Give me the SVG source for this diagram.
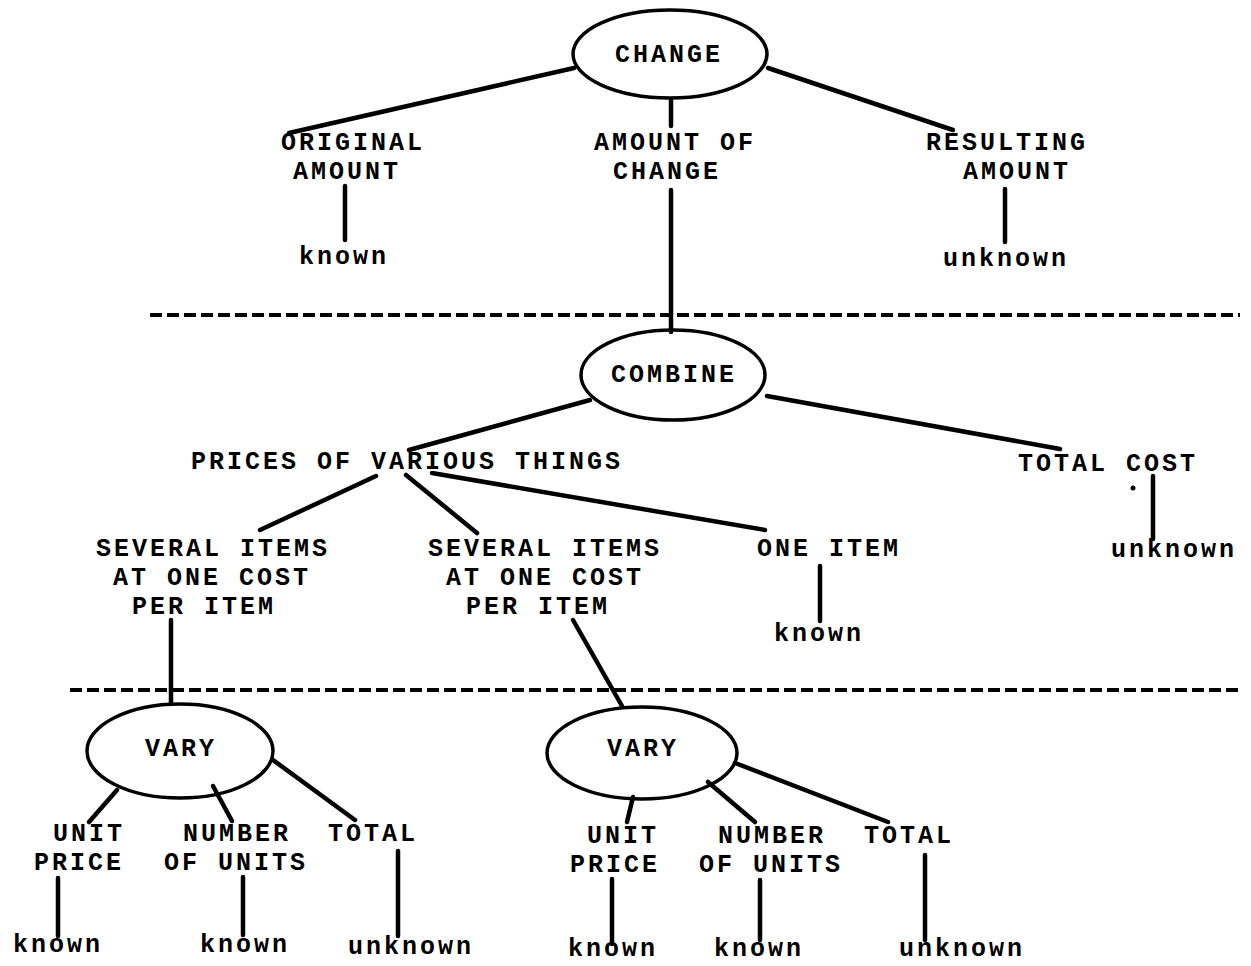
<svg xmlns="http://www.w3.org/2000/svg" width="1251" height="966" viewBox="0 0 1251 966">
<style>
text{font-family:"Liberation Mono","DejaVu Sans Mono",monospace;font-weight:bold;font-size:25px;letter-spacing:3px;fill:#000;text-anchor:middle}
.e{fill:none;stroke:#000;stroke-width:3.5}
.c line{stroke:#000;stroke-width:4.5;stroke-linecap:round}
.d{stroke:#000;stroke-width:4;stroke-dasharray:12 5;fill:none}
</style>
<rect width="1251" height="966" fill="#fff"/>
<g id="separators">
<line class="d" x1="150" y1="315" x2="1240" y2="315"/>
<line class="d" x1="70" y1="690" x2="1240" y2="690"/>
</g>
<g class="c" id="connectors">
<line x1="574" y1="68" x2="289" y2="133"/>
<line x1="671" y1="100" x2="671" y2="126"/>
<line x1="768" y1="68" x2="953" y2="130"/>
<line x1="345" y1="186" x2="345" y2="240"/>
<line x1="671" y1="190" x2="671" y2="332"/>
<line x1="1005" y1="189" x2="1005" y2="242"/>
<line x1="590" y1="400" x2="409" y2="450"/>
<line x1="767" y1="396" x2="1060" y2="449"/>
<line x1="1153" y1="476" x2="1153" y2="539"/>
<line x1="376" y1="476" x2="260" y2="530"/>
<line x1="406" y1="475" x2="477" y2="533"/>
<line x1="432" y1="473" x2="765" y2="530"/>
<line x1="820" y1="566" x2="820" y2="621"/>
<line x1="171" y1="620" x2="171" y2="704"/>
<line x1="573" y1="620" x2="622" y2="706"/>
<line x1="117" y1="790" x2="89" y2="822"/>
<line x1="213" y1="786" x2="232" y2="821"/>
<line x1="273" y1="760" x2="355" y2="820"/>
<line x1="58" y1="878" x2="58" y2="936"/>
<line x1="243" y1="877" x2="243" y2="935"/>
<line x1="398" y1="851" x2="398" y2="936"/>
<line x1="633" y1="797" x2="627" y2="822"/>
<line x1="708" y1="782" x2="755" y2="822"/>
<line x1="735" y1="763" x2="888" y2="822"/>
<line x1="612" y1="879" x2="612" y2="944"/>
<line x1="760" y1="880" x2="760" y2="940"/>
<line x1="925" y1="855" x2="925" y2="940"/>
<circle cx="1133" cy="488" r="2.5" fill="#000"/>
</g>
<g id="change"><ellipse class="e" cx="670" cy="54" rx="97" ry="44"/><text x="669" y="62">CHANGE</text></g>
<g id="original-amount"><text x="353" y="150">ORIGINAL</text><text x="347" y="179">AMOUNT</text></g>
<g id="amount-of-change"><text x="675" y="150">AMOUNT OF</text><text x="667" y="179">CHANGE</text></g>
<g id="resulting-amount"><text x="1007" y="150">RESULTING</text><text x="1017" y="179">AMOUNT</text></g>
<g id="known-1"><text x="344" y="264">known</text></g>
<g id="unknown-1"><text x="1006" y="266">unknown</text></g>
<g id="combine"><ellipse class="e" cx="673" cy="375" rx="92" ry="45"/><text x="674" y="382">COMBINE</text></g>
<g id="prices"><text x="407" y="469">PRICES OF VARIOUS THINGS</text></g>
<g id="total-cost"><text x="1108" y="471">TOTAL COST</text></g>
<g id="unknown-2"><text x="1174" y="557">unknown</text></g>
<g id="several-1"><text x="213" y="556">SEVERAL ITEMS</text><text x="212" y="585">AT ONE COST</text><text x="204" y="614">PER ITEM</text></g>
<g id="several-2"><text x="545" y="556">SEVERAL ITEMS</text><text x="545" y="585">AT ONE COST</text><text x="538" y="614">PER ITEM</text></g>
<g id="one-item"><text x="829" y="556">ONE ITEM</text></g>
<g id="known-2"><text x="819" y="641">known</text></g>
<g id="vary-1"><ellipse class="e" cx="180" cy="751" rx="93" ry="47"/><text x="181" y="756">VARY</text></g>
<g id="vary-2"><ellipse class="e" cx="642" cy="753" rx="95" ry="46"/><text x="643" y="756">VARY</text></g>
<g id="unit-price-1"><text x="89" y="841">UNIT</text><text x="79" y="870">PRICE</text></g>
<g id="number-1"><text x="237" y="841">NUMBER</text><text x="236" y="870">OF UNITS</text></g>
<g id="total-1"><text x="373" y="841">TOTAL</text></g>
<g id="known-3"><text x="58" y="952">known</text></g>
<g id="known-4"><text x="245" y="952">known</text></g>
<g id="unknown-3"><text x="411" y="954">unknown</text></g>
<g id="unit-price-2"><text x="623" y="843">UNIT</text><text x="615" y="872">PRICE</text></g>
<g id="number-2"><text x="772" y="843">NUMBER</text><text x="771" y="872">OF UNITS</text></g>
<g id="total-2"><text x="909" y="843">TOTAL</text></g>
<g id="known-5"><text x="613" y="956">known</text></g>
<g id="known-6"><text x="759" y="956">known</text></g>
<g id="unknown-4"><text x="962" y="956">unknown</text></g>
</svg>
